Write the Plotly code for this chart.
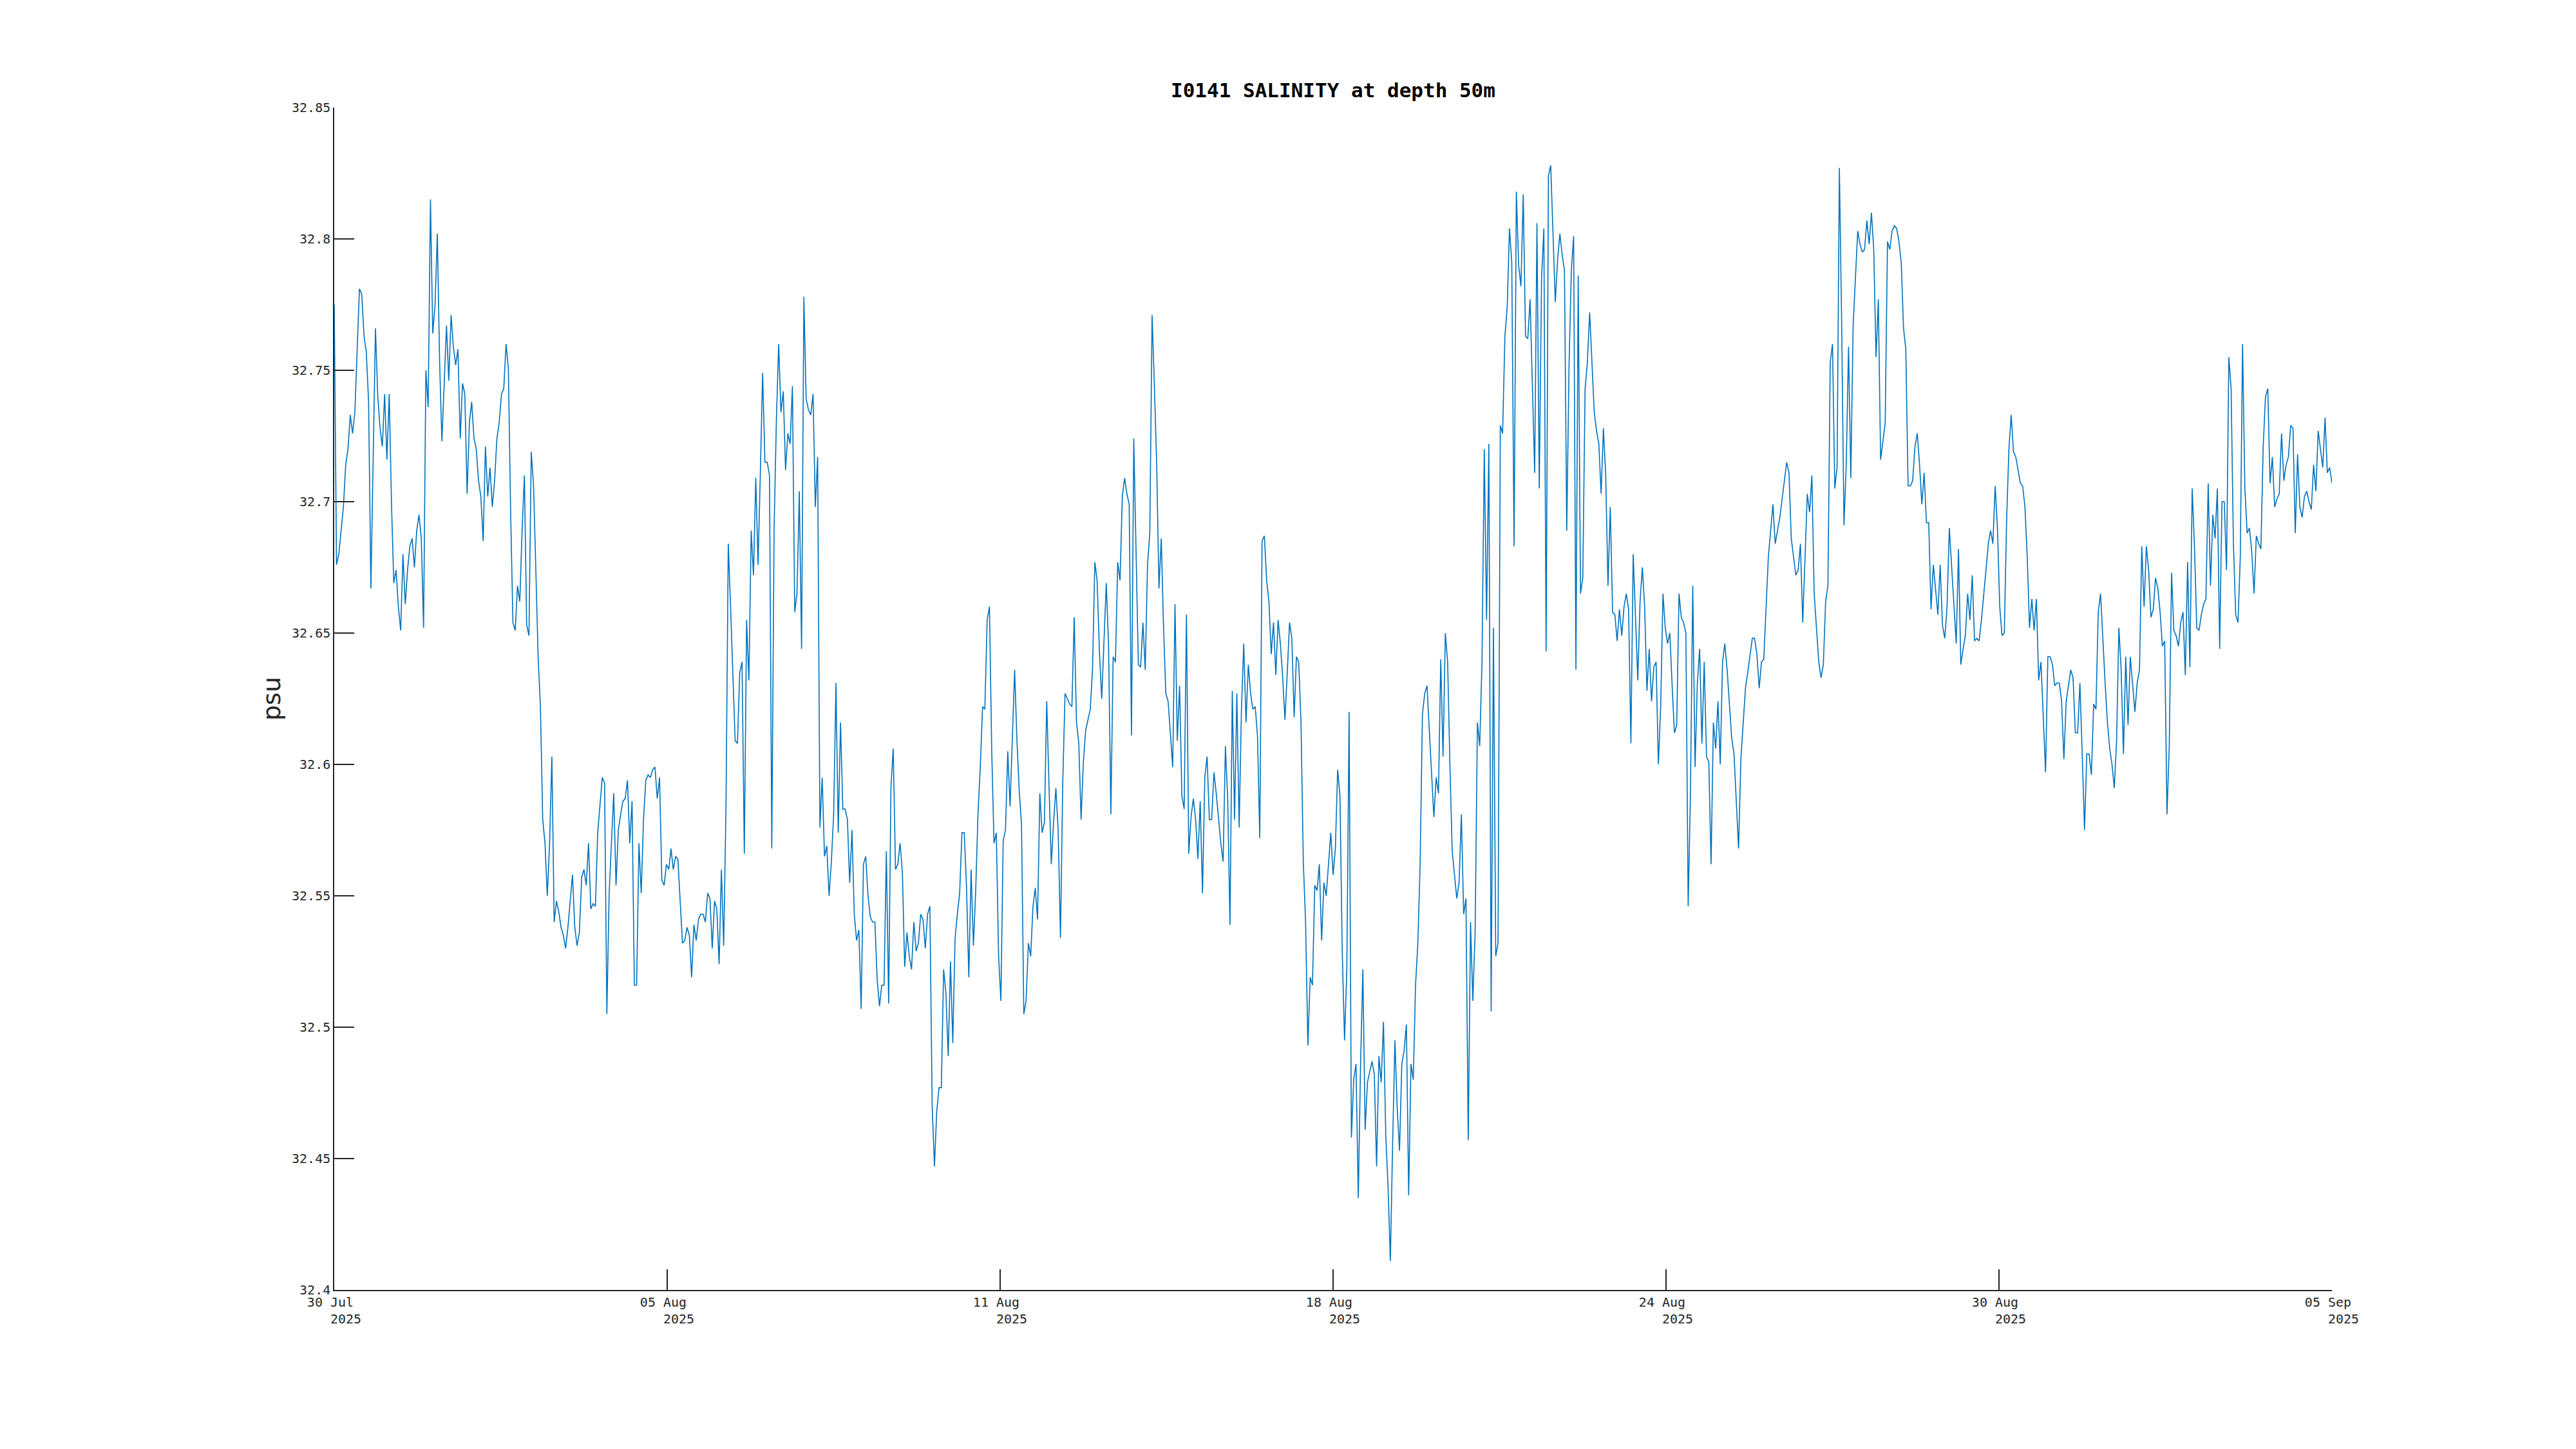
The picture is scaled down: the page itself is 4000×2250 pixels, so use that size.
import pandas as pd
import plotly.graph_objects as go

# ---------------- data ----------------
start_time = "2025-07-30 12:00"
end_time = "2025-09-05 12:00"

salinity_psu = [
    # 30 Jul - 04 Aug
    32.775, 32.676, 32.680, 32.690, 32.698, 32.714, 32.720, 32.733, 32.726, 32.734,
    32.760, 32.781, 32.779, 32.763, 32.757, 32.738, 32.667, 32.719, 32.766, 32.740,
    32.728, 32.721, 32.741, 32.716, 32.741, 32.699, 32.669, 32.674, 32.660, 32.651,
    32.680, 32.661, 32.674, 32.683, 32.686, 32.675, 32.689, 32.695, 32.686, 32.652,
    32.750, 32.736, 32.815, 32.764, 32.775, 32.802, 32.753, 32.723, 32.746, 32.767,
    32.746, 32.771, 32.759, 32.752, 32.758, 32.724, 32.745, 32.741, 32.703, 32.730,
    32.738, 32.724, 32.720, 32.708, 32.702, 32.685, 32.721, 32.702, 32.713, 32.698,
    32.708, 32.724, 32.730, 32.741, 32.743, 32.760, 32.751, 32.696, 32.654, 32.651,
    32.668, 32.662, 32.689, 32.710, 32.653, 32.649, 32.719, 32.706, 32.674, 32.641,
    32.622, 32.579, 32.570, 32.550, 32.570, 32.603, 32.540, 32.548, 32.544, 32.538,
    32.535, 32.530, 32.538, 32.548, 32.558, 32.538, 32.531, 32.536, 32.557, 32.560,
    32.554,
    # 04 Aug - 09 Aug
    32.570, 32.545, 32.547, 32.546, 32.574, 32.585, 32.595, 32.593, 32.505, 32.551,
    32.570, 32.589, 32.554, 32.575, 32.581, 32.586, 32.587, 32.594, 32.570, 32.586,
    32.516, 32.516, 32.570, 32.551, 32.579, 32.594, 32.596, 32.595, 32.598, 32.599,
    32.587, 32.595, 32.556, 32.554, 32.562, 32.560, 32.568, 32.560, 32.565, 32.564,
    32.548, 32.532, 32.533, 32.538, 32.535, 32.519, 32.539, 32.533, 32.541, 32.543,
    32.543, 32.540, 32.551, 32.549, 32.530, 32.548, 32.545, 32.524, 32.560, 32.531,
    32.584, 32.684, 32.660, 32.636, 32.609, 32.608, 32.635, 32.639, 32.566, 32.655,
    32.632, 32.689, 32.672, 32.709, 32.676, 32.711, 32.749, 32.715, 32.715, 32.710,
    32.568, 32.690, 32.731, 32.760, 32.734, 32.742, 32.712, 32.726, 32.722, 32.744,
    32.658, 32.665, 32.704, 32.644, 32.778, 32.739, 32.735, 32.733, 32.741, 32.698,
    32.717, 32.576, 32.595, 32.565, 32.569, 32.550, 32.563, 32.581, 32.631,
    # 09 Aug - 13 Aug
    32.574, 32.616, 32.583, 32.583, 32.579, 32.555, 32.575, 32.543, 32.533, 32.537,
    32.507, 32.562, 32.565, 32.550, 32.542, 32.540, 32.540, 32.518, 32.508, 32.516,
    32.516, 32.567, 32.509, 32.591, 32.606, 32.560, 32.562, 32.570, 32.559, 32.523,
    32.536, 32.527, 32.522, 32.540, 32.529, 32.532, 32.543, 32.541, 32.530, 32.543,
    32.546, 32.470, 32.447, 32.468, 32.477, 32.477, 32.522, 32.513, 32.489, 32.525,
    32.494, 32.534, 32.543, 32.551, 32.574, 32.574, 32.553, 32.519, 32.560, 32.531,
    32.552, 32.581, 32.599, 32.622, 32.621, 32.655, 32.660, 32.605, 32.570, 32.574,
    32.527, 32.510, 32.571, 32.575, 32.605, 32.584, 32.610, 32.636, 32.609, 32.590,
    32.577, 32.505, 32.510, 32.532, 32.527, 32.546, 32.553, 32.541, 32.589, 32.574,
    32.578, 32.624, 32.592, 32.562, 32.578, 32.591, 32.575, 32.534, 32.593, 32.627,
    32.625, 32.623, 32.622, 32.656, 32.616, 32.608, 32.579, 32.601, 32.613, 32.617,
    # 13 Aug - 18 Aug
    32.621, 32.636, 32.677, 32.670, 32.643, 32.625, 32.648, 32.669, 32.645, 32.581,
    32.641, 32.639, 32.677, 32.670, 32.702, 32.709, 32.703, 32.699, 32.611, 32.724,
    32.681, 32.638, 32.637, 32.654, 32.636, 32.676, 32.688, 32.771, 32.744, 32.714,
    32.667, 32.686, 32.652, 32.627, 32.624, 32.611, 32.599, 32.661, 32.609, 32.630,
    32.588, 32.583, 32.657, 32.566, 32.580, 32.587, 32.579, 32.564, 32.586, 32.551,
    32.595, 32.603, 32.579, 32.579, 32.597, 32.589, 32.579, 32.570, 32.563, 32.607,
    32.587, 32.539, 32.628, 32.579, 32.627, 32.576, 32.621, 32.646, 32.616, 32.638,
    32.627, 32.621, 32.622, 32.611, 32.572, 32.685, 32.687, 32.670, 32.662, 32.642,
    32.654, 32.634, 32.655, 32.646, 32.633, 32.617, 32.635, 32.654, 32.648, 32.618,
    32.641, 32.639, 32.616, 32.563, 32.540, 32.493, 32.519, 32.516, 32.554, 32.552,
    32.562, 32.533, 32.555, 32.550, 32.562, 32.574, 32.558, 32.568, 32.598,
    # 18 Aug - 23 Aug
    32.588, 32.529, 32.495, 32.522, 32.620, 32.458, 32.480, 32.486, 32.435, 32.486,
    32.522, 32.461, 32.479, 32.483, 32.487, 32.482, 32.447, 32.489, 32.479, 32.502,
    32.459, 32.439, 32.411, 32.456, 32.495, 32.469, 32.453, 32.486, 32.491, 32.501,
    32.436, 32.486, 32.480, 32.516, 32.532, 32.562, 32.619, 32.627, 32.630, 32.613,
    32.598, 32.580, 32.595, 32.589, 32.640, 32.603, 32.650, 32.639, 32.600, 32.567,
    32.558, 32.549, 32.555, 32.581, 32.543, 32.549, 32.457, 32.540, 32.510, 32.536,
    32.616, 32.607, 32.639, 32.720, 32.655, 32.722, 32.506, 32.652, 32.527, 32.532,
    32.729, 32.726, 32.763, 32.774, 32.804, 32.791, 32.683, 32.818, 32.790, 32.782,
    32.817, 32.763, 32.762, 32.777, 32.744, 32.711, 32.806, 32.705, 32.785, 32.804,
    32.643, 32.824, 32.828, 32.803, 32.776, 32.792, 32.802, 32.794, 32.788, 32.689,
    32.752, 32.788, 32.801, 32.636, 32.786, 32.665, 32.671, 32.743, 32.753, 32.772,
    # 23 Aug - 27 Aug
    32.752, 32.734, 32.727, 32.722, 32.703, 32.728, 32.710, 32.668, 32.698, 32.658,
    32.657, 32.647, 32.659, 32.649, 32.660, 32.665, 32.659, 32.608, 32.680, 32.658,
    32.632, 32.662, 32.675, 32.660, 32.628, 32.644, 32.624, 32.637, 32.639, 32.600,
    32.622, 32.665, 32.652, 32.646, 32.650, 32.630, 32.612, 32.615, 32.665, 32.656,
    32.654, 32.650, 32.546, 32.589, 32.668, 32.599, 32.631, 32.644, 32.608, 32.639,
    32.603, 32.601, 32.562, 32.616, 32.606, 32.624, 32.600, 32.639, 32.646, 32.636,
    32.623, 32.610, 32.604, 32.585, 32.568, 32.602, 32.616, 32.629, 32.635, 32.641,
    32.648, 32.648, 32.642, 32.629, 32.639, 32.640, 32.660, 32.679, 32.689, 32.699,
    32.684, 32.689, 32.694, 32.701, 32.708, 32.715, 32.711, 32.686, 32.679, 32.672,
    32.674, 32.684, 32.654, 32.679, 32.703, 32.696, 32.710, 32.665, 32.651, 32.639,
    32.633, 32.638, 32.662, 32.668, 32.753, 32.760, 32.705, 32.713, 32.827, 32.768,
    # 27 Aug - 01 Sep
    32.691, 32.714, 32.759, 32.709, 32.767, 32.784, 32.803, 32.798, 32.795, 32.796,
    32.807, 32.798, 32.810, 32.796, 32.755, 32.777, 32.716, 32.723, 32.730, 32.799,
    32.796, 32.803, 32.805, 32.804, 32.799, 32.791, 32.766, 32.758, 32.706, 32.706,
    32.708, 32.721, 32.726, 32.714, 32.699, 32.711, 32.692, 32.692, 32.659, 32.676,
    32.667, 32.657, 32.676, 32.653, 32.648, 32.660, 32.690, 32.675, 32.660, 32.646,
    32.682, 32.638, 32.644, 32.649, 32.665, 32.655, 32.672, 32.647, 32.648, 32.647,
    32.655, 32.664, 32.674, 32.684, 32.689, 32.684, 32.706, 32.690, 32.660, 32.649,
    32.650, 32.693, 32.720, 32.733, 32.719, 32.717, 32.712, 32.707, 32.706, 32.698,
    32.679, 32.652, 32.663, 32.651, 32.663, 32.632, 32.639, 32.618, 32.597, 32.641,
    32.641, 32.638, 32.630, 32.631, 32.631, 32.624, 32.602, 32.624, 32.630, 32.636,
    32.633, 32.612, 32.612, 32.631, 32.604, 32.575, 32.604, 32.604, 32.596,
    # 01 Sep - 05 Sep
    32.623, 32.621, 32.658, 32.665, 32.646, 32.631, 32.616, 32.606, 32.600, 32.591,
    32.609, 32.652, 32.636, 32.604, 32.641, 32.615, 32.641, 32.630, 32.620, 32.631,
    32.636, 32.683, 32.660, 32.683, 32.674, 32.656, 32.659, 32.671, 32.667, 32.658,
    32.645, 32.647, 32.581, 32.607, 32.673, 32.651, 32.649, 32.645, 32.654, 32.658,
    32.634, 32.677, 32.637, 32.705, 32.683, 32.652, 32.651, 32.657, 32.661, 32.663,
    32.707, 32.668, 32.695, 32.686, 32.705, 32.644, 32.700, 32.700, 32.674, 32.755,
    32.743, 32.684, 32.657, 32.654, 32.679, 32.760, 32.705, 32.688, 32.690, 32.681,
    32.665, 32.687, 32.684, 32.682, 32.721, 32.740, 32.743, 32.707, 32.717, 32.698,
    32.701, 32.703, 32.726, 32.708, 32.714, 32.717, 32.729, 32.728, 32.688, 32.718,
    32.698, 32.694, 32.702, 32.704, 32.700, 32.697, 32.714, 32.704, 32.727, 32.720,
    32.713, 32.732, 32.711, 32.713, 32.707,
]

x_tick_days = ["30 Jul", "05 Aug", "11 Aug", "18 Aug", "24 Aug", "30 Aug", "05 Sep"]
x_tick_year = "2025"
y_tick_values = [32.4, 32.45, 32.5, 32.55, 32.6, 32.65, 32.7, 32.75, 32.8, 32.85]
y_tick_labels = ["32.4", "32.45", "32.5", "32.55", "32.6", "32.65", "32.7", "32.75", "32.8", "32.85"]

title_text = "I0141 SALINITY at depth 50m"
y_label = "psu"

# ---------------- figure ----------------
times = pd.date_range(start_time, end_time, periods=len(salinity_psu))
x_tick_vals = pd.date_range(start_time, end_time, periods=len(x_tick_days))
NB = "\u00a0"
x_tick_text = [f"{d}{NB}<br>{NB*3}{x_tick_year}" for d in x_tick_days]

W, H = 4000, 2250
L, T = 511, 159
PW, PH = 3102, 1836
R = W - L - PW
B = H - T - PH

fig = go.Figure()
fig.add_trace(go.Scatter(
    x=times, y=salinity_psu, mode="lines",
    line=dict(color="#0072BD", width=1.6),
    showlegend=False,
))

axis_font = dict(family="DejaVu Sans Mono", size=20, color="#262626")

fig.update_layout(
    width=W, height=H,
    margin=dict(l=L, r=R, t=T, b=B, pad=0),
    paper_bgcolor="white", plot_bgcolor="white",
    title=dict(
        text=f"<b>{title_text}</b>",
        font=dict(family="DejaVu Sans Mono", size=31, color="black"),
        x=0.5, xref="paper", xanchor="center",
        y=1 - 132 / H, yref="container", yanchor="middle",
    ),
    xaxis=dict(
        range=[x_tick_vals[0], x_tick_vals[-1]],
        tickmode="array", tickvals=list(x_tick_vals), ticktext=x_tick_text,
        ticks="inside", ticklen=32, tickwidth=1.5, tickcolor="#262626",
        showline=True, linecolor="#262626", linewidth=1.5, mirror=False,
        showgrid=False, zeroline=False,
        tickfont=axis_font, tickangle=0,
    ),
    yaxis=dict(
        range=[32.4, 32.85],
        tickmode="array", tickvals=y_tick_values, ticktext=y_tick_labels,
        ticks="inside", ticklen=31, tickwidth=1.5, tickcolor="#262626",
        showline=True, linecolor="#262626", linewidth=1.5, mirror=False,
        showgrid=False, zeroline=False,
        tickfont=axis_font,
    ),
    annotations=[dict(
        text=y_label, textangle=-90,
        xref="paper", yref="paper",
        x=(414 - L) / PW, y=0.5,
        xanchor="center", yanchor="middle", showarrow=False,
        font=dict(family="DejaVu Sans", size=38, color="#262626"),
    )],
)

fig.write_html("out.html")
